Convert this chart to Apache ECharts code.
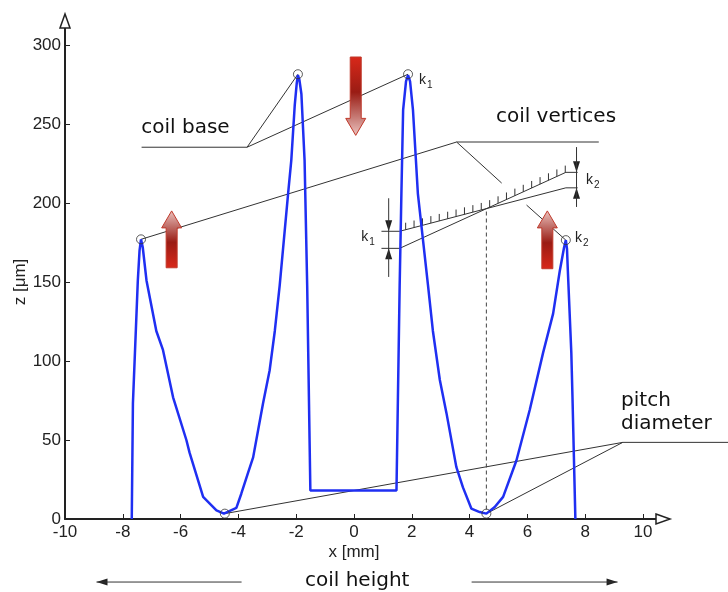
<!DOCTYPE html>
<html>
<head>
<meta charset="utf-8">
<script src="https://cdn.jsdelivr.net/npm/echarts@6/dist/echarts.min.js"></script>
<style>
  html, body { margin: 0; padding: 0; background: #fff; }
  #chart { width: 728px; height: 592px; }
</style>
</head>
<body>
<div id="chart"></div>
<script>
// axis ranges / tick steps
const xRange = [-10, 10];
const xStep = 2;
const zRange = [0, 300];
const zStep = 50;

// measured coil profile, x [mm] / z [um]
const profileX = [-7.69, -7.65, -7.48, -7.42, -7.37, -7.31, -7.18, -6.84, -6.61, -6.26, -5.80, -5.69, -5.22, -4.76, -4.50,
  -4.07, -3.90, -3.67, -3.49, -3.32, -3.15, -2.92, -2.74, -2.57, -2.28, -2.17, -2.05, -1.98, -1.94, -1.89, -1.82, -1.71,
  -1.62, -1.51, 1.47, 1.58, 1.64, 1.70, 1.80, 1.87, 1.94, 2.04, 2.21, 2.56, 2.73, 2.97, 3.20, 3.54, 3.77, 4.06, 4.35,
  4.58, 4.87, 5.16, 5.62, 6.08, 6.54, 6.89, 7.12, 7.27, 7.33, 7.37, 7.40, 7.52, 7.56, 7.66];
const profileZ = [0, 73, 151, 170, 177, 172, 151, 119, 107, 77, 50, 42, 14, 5.5, 3.4,
  7, 16, 29, 39, 56, 73, 94, 119, 148, 206, 227, 262, 276, 281, 278, 269, 227,
  148, 18, 18, 148, 206, 259, 277, 281, 277, 259, 206, 148, 119, 88, 67, 33, 20, 6.6, 4.4,
  3.4, 7.6, 14, 37, 69, 105, 130, 157, 172, 176.5, 171, 157, 105, 77, 0];

// coil vertices / pitch points (open circles)
const vertexX = [-7.37, -4.47, -1.94, 1.87, 4.58, 7.33];
const vertexZ = [177, 3.4, 281.5, 281.5, 3.4, 176.5];

// annotation leader lines (data units)
const leaders = [
  [[-7.35, 235.3], [-3.70, 235.3], [-1.94, 281.5]],
  [[-3.70, 235.3], [1.87, 281.5]],
  [[-7.37, 177], [3.55, 238.6], [8.47, 238.6]],
  [[3.55, 238.6], [5.11, 212.6]],
  [[-4.47, 3.4], [9.30, 48.5], [10, 48.5]],
  [[9.30, 48.5], [4.58, 3.4]],
  [[5.97, 198.7], [7.33, 176.5]],
  // tolerance lines k1 -> k2
  [[1.58, 182.1], [7.33, 209.6]],
  [[1.58, 171.3], [7.33, 219.4]],
  // k1 dimension
  [[1.20, 203], [1.20, 153.2]],
  [[0.95, 182.1], [1.58, 182.1]],
  [[0.95, 171.3], [1.58, 171.3]],
  // k2 dimension
  [[7.70, 235.4], [7.70, 197.5]],
  [[7.33, 219.4], [7.74, 219.4]],
  [[7.33, 209.6], [7.74, 209.6]],
  // coil height arrows
  [[-3.89, -39.9], [-8.91, -39.9]],
  [[4.07, -39.9], [9.12, -39.9]]
];
// pitch diameter leader runs on to the right edge
const pitchLeaderZ = 48.5;
const pitchLine = [[4.58, 6], [4.58, 196.5]];
const hatchLine = [[1.58, 182.1], [4.59, 196.5], [7.33, 219.4]];

// small black arrow heads: [x, z, direction]
const dimArrows = [
  [1.20, 182.1, 'down'], [1.20, 171.3, 'up'],
  [7.70, 219.4, 'down'], [7.70, 209.6, 'up'],
  [-8.91, -39.9, 'left'], [9.12, -39.9, 'right']
];
// red force arrows: x, tail z, tip z
const redArrows = [[-6.31, 159, 195], [0.06, 292.4, 242.8], [6.69, 158.4, 195]];

// labels
const labels = [
  { text: 'coil base', x: -7.36, z: 247.3, align: 'left' },
  { text: 'coil vertices', x: 4.91, z: 254.4, align: 'left' },
  { text: 'pitch', x: 9.24, z: 75.1, align: 'left' },
  { text: 'diameter', x: 9.24, z: 60.4, align: 'left' },
  { text: 'coil height', x: 0.11, z: -38.8, align: 'center' }
];
const kLabels = [
  { sub: '1', x: 2.25, z: 278 },
  { sub: '1', x: 0.25, z: 178.6 },
  { sub: '2', x: 8.03, z: 214.6 },
  { sub: '2', x: 7.65, z: 177.6 }
];

const tickFont = '"Liberation Sans", Arial, sans-serif';
const noteFont = '"DejaVu Sans", sans-serif';

const series = [];
leaders.forEach(function (pts) {
  series.push({
    type: 'line', data: pts, symbol: 'none', silent: true, clip: false, z: 3,
    lineStyle: { color: '#333', width: 1 }
  });
});
series.push({
  type: 'line', data: pitchLine, symbol: 'none', silent: true, clip: false, z: 3,
  lineStyle: { color: '#444', width: 1, type: [4, 3] }
});
series.push({
  type: 'line', data: profileX.map((x, i) => [x, profileZ[i]]),
  symbol: 'none', clip: false, z: 4,
  lineStyle: { color: '#1f2ff2', width: 2.5 }
});
series.push({
  type: 'scatter', data: vertexX.map((x, i) => [x, vertexZ[i]]),
  symbol: 'circle', symbolSize: 9, z: 5,
  itemStyle: { color: 'rgba(255,255,255,0)', borderColor: '#333', borderWidth: 1 }
});

const chart = echarts.init(document.getElementById('chart'));
chart.setOption({
  animation: false,
  backgroundColor: '#fff',
  grid: { left: 65, right: 85, top: 45, bottom: 73, containLabel: false, outerBoundsMode: 'none' },
  xAxis: {
    type: 'value', min: xRange[0], max: xRange[1], interval: xStep,
    name: 'x [mm]', nameLocation: 'middle', nameGap: 25, nameMoveOverlap: false,
    nameTextStyle: { color: '#222', fontSize: 17, fontFamily: tickFont },
    axisLine: { onZero: false, lineStyle: { color: '#222', width: 2 } },
    axisTick: { inside: true, length: 5, lineStyle: { color: '#222', width: 1 } },
    axisLabel: { color: '#222', fontSize: 17, fontFamily: tickFont, margin: 5 },
    splitLine: { show: false }
  },
  yAxis: {
    type: 'value', min: zRange[0], max: zRange[1], interval: zStep,
    name: 'z [μm]', nameLocation: 'middle', nameGap: 36, nameMoveOverlap: false,
    nameTextStyle: { color: '#222', fontSize: 17, fontFamily: tickFont },
    axisLine: { onZero: false, lineStyle: { color: '#222', width: 2 } },
    axisTick: { inside: true, length: 5, lineStyle: { color: '#222', width: 1 } },
    axisLabel: { color: '#222', fontSize: 17, fontFamily: tickFont, margin: 4 },
    splitLine: { show: false }
  },
  series: series
});

const toPx = p => chart.convertToPixel({ gridIndex: 0 }, p);
const graphic = [];

// axis extensions with open arrow heads
const xEnd = toPx([xRange[1], zRange[0]]);
const yEnd = toPx([xRange[0], zRange[1]]);
graphic.push({ type: 'line', shape: { x1: xEnd[0], y1: xEnd[1], x2: xEnd[0] + 14, y2: xEnd[1] }, style: { stroke: '#222', lineWidth: 2 } });
graphic.push({ type: 'polygon', shape: { points: [[xEnd[0] + 13, xEnd[1] - 5], [xEnd[0] + 27, xEnd[1]], [xEnd[0] + 13, xEnd[1] + 5]] }, style: { fill: '#fff', stroke: '#222', lineWidth: 1.5 } });
graphic.push({ type: 'line', shape: { x1: yEnd[0], y1: yEnd[1], x2: yEnd[0], y2: yEnd[1] - 18 }, style: { stroke: '#222', lineWidth: 2 } });
graphic.push({ type: 'polygon', shape: { points: [[yEnd[0] - 5, yEnd[1] - 17], [yEnd[0], yEnd[1] - 31], [yEnd[0] + 5, yEnd[1] - 17]] }, style: { fill: '#fff', stroke: '#222', lineWidth: 1.5 } });

// pitch diameter leader continues past the axis end
const pl = toPx([xRange[1], pitchLeaderZ]);
graphic.push({ type: 'line', shape: { x1: pl[0], y1: pl[1], x2: chart.getWidth(), y2: pl[1] }, style: { stroke: '#333', lineWidth: 1 } });

// hatch marks on upper tolerance line
const hp = hatchLine.map(toPx);
const hEnd = hp[hp.length - 1][0];
for (let x = hp[0][0] + 6; x <= hEnd; x += 8.4) {
  let y = null;
  for (let i = 0; i < hp.length - 1; i++) {
    if (y === null && x >= hp[i][0] && x <= hp[i + 1][0]) {
      y = hp[i][1] + (hp[i + 1][1] - hp[i][1]) * (x - hp[i][0]) / (hp[i + 1][0] - hp[i][0]);
    }
  }
  if (y !== null) {
    graphic.push({ type: 'line', shape: { x1: x, y1: y, x2: x, y2: y - 7 }, style: { stroke: '#333', lineWidth: 1 } });
  }
}

// small dimension arrow heads
dimArrows.forEach(function (a) {
  const p = toPx([a[0], a[1]]);
  const L = 11, W = 3.5;
  let pts;
  if (a[2] === 'down') pts = [[p[0] - W, p[1] - L], [p[0], p[1]], [p[0] + W, p[1] - L]];
  else if (a[2] === 'up') pts = [[p[0] - W, p[1] + L], [p[0], p[1]], [p[0] + W, p[1] + L]];
  else if (a[2] === 'left') pts = [[p[0] + L, p[1] - W], [p[0], p[1]], [p[0] + L, p[1] + W]];
  else pts = [[p[0] - L, p[1] - W], [p[0], p[1]], [p[0] - L, p[1] + W]];
  graphic.push({ type: 'polygon', shape: { points: pts }, style: { fill: '#222' } });
});

// red force arrows
redArrows.forEach(function (a) {
  const tail = toPx([a[0], a[1]]);
  const tip = toPx([a[0], a[2]]);
  const x = tip[0];
  const dir = tip[1] < tail[1] ? -1 : 1;
  const hw = 10, sw = 5.5, hl = 17;
  const yb = tip[1] - dir * hl;
  const pts = [[x - sw, tail[1]], [x - sw, yb], [x - hw, yb], [x, tip[1]], [x + hw, yb], [x + sw, yb], [x + sw, tail[1]]];
  const stops = [
    { offset: 0, color: '#d9281a' },
    { offset: 0.45, color: '#9a1c14' },
    { offset: 0.75, color: '#c47670' },
    { offset: 1, color: '#ecc4c0' }
  ];
  const grad = dir < 0
    ? new echarts.graphic.LinearGradient(0, 1, 0, 0, stops)
    : new echarts.graphic.LinearGradient(0, 0, 0, 1, stops);
  graphic.push({ type: 'polygon', shape: { points: pts }, style: { fill: grad, stroke: '#c0392b', lineWidth: 1 }, z: 10 });
});

// text labels
labels.forEach(function (l) {
  const p = toPx([l.x, l.z]);
  graphic.push({
    type: 'text', x: p[0], y: p[1],
    style: { text: l.text, font: '20px ' + noteFont, fill: '#111', align: l.align, verticalAlign: 'middle' }
  });
});
kLabels.forEach(function (k) {
  const p = toPx([k.x, k.z]);
  graphic.push({ type: 'text', x: p[0], y: p[1], style: { text: 'k', font: '14px ' + tickFont, fill: '#222', verticalAlign: 'middle' } });
  graphic.push({ type: 'text', x: p[0] + 8, y: p[1] + 5, style: { text: k.sub, font: '10px ' + tickFont, fill: '#222', verticalAlign: 'middle' } });
});

chart.setOption({ graphic: graphic });
</script>
</body>
</html>
